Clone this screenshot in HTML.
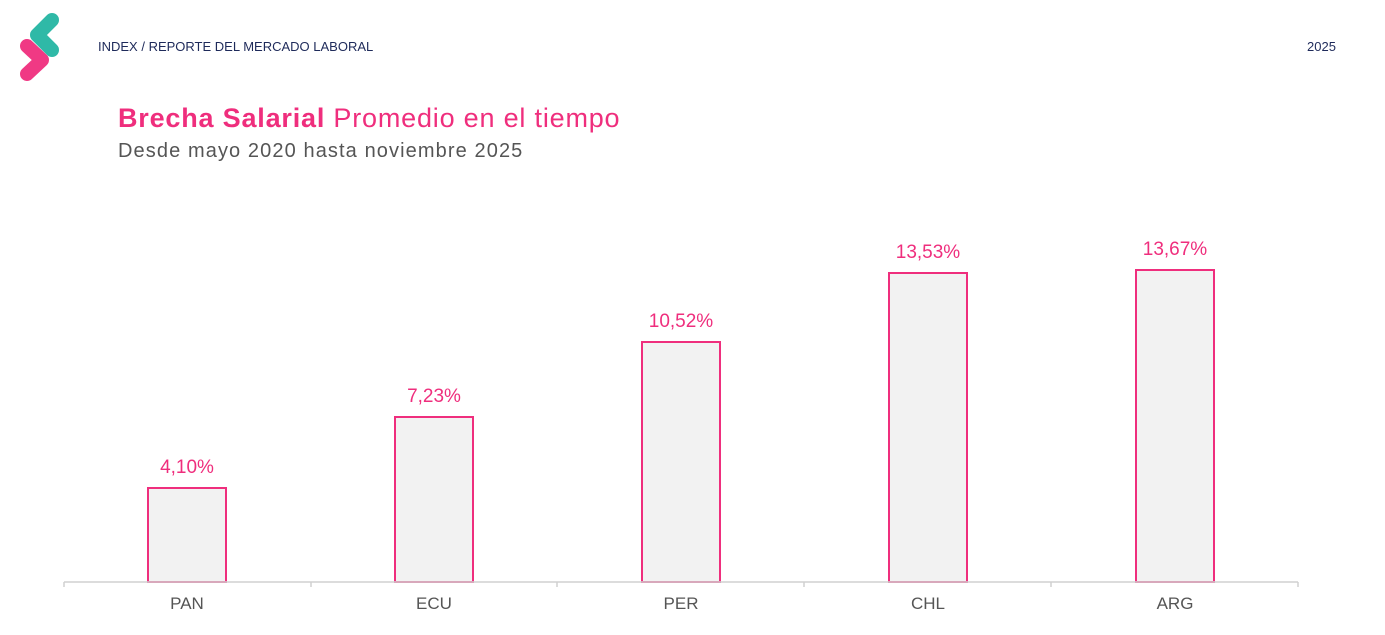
<!DOCTYPE html>
<html><head><meta charset="utf-8"><style>
body{margin:0;width:1385px;height:635px;background:#fff;overflow:hidden;font-family:"Liberation Sans",sans-serif;position:relative}
.a{position:absolute}
</style></head><body>
<svg class="a" style="left:0;top:0" width="70" height="90">
<path d="M52 20 L37 35 L52 50" stroke="#2fb9a7" stroke-width="14" fill="none" stroke-linecap="round" stroke-linejoin="round"/>
<path d="M27 46 L42 60 L27 74" stroke="#ef2e7d" stroke-width="14" fill="none" stroke-linecap="round" stroke-linejoin="round" opacity="0.95"/>
</svg>
<div class="a" style="left:98px;top:39px;font-size:13px;color:#1e2a5a">INDEX / REPORTE DEL MERCADO LABORAL</div>
<div class="a" style="left:1307px;top:39px;font-size:13px;color:#1e2a5a">2025</div>
<div class="a" style="left:118px;top:103px;font-size:27px;letter-spacing:0.8px;color:#ef2e7d"><b>Brecha Salarial</b> Promedio en el tiempo</div>
<div class="a" style="left:118px;top:140px;font-size:20px;letter-spacing:1.1px;color:#555">Desde mayo 2020 hasta noviembre 2025</div>
<svg class="a" style="left:0;top:0" width="1385" height="635">
<g fill="#f2f2f2" stroke="#ef2e7d" stroke-width="2">
<rect x="148" y="488" width="78" height="94"/>
<rect x="395" y="417" width="78" height="165"/>
<rect x="642" y="342" width="78" height="240"/>
<rect x="889" y="273" width="78" height="309"/>
<rect x="1136" y="270" width="78" height="312"/>
</g>
<g stroke="#d0d0d0" stroke-width="1.5">
<line x1="64" y1="582" x2="1298" y2="582"/>
<line x1="64" y1="582" x2="64" y2="587"/><line x1="311" y1="582" x2="311" y2="587"/><line x1="557" y1="582" x2="557" y2="587"/><line x1="804" y1="582" x2="804" y2="587"/><line x1="1051" y1="582" x2="1051" y2="587"/><line x1="1298" y1="582" x2="1298" y2="587"/>
</g>
<g fill="#ef2e7d" font-size="19" text-anchor="middle" font-family="Liberation Sans, sans-serif">
<text x="187" y="473">4,10%</text>
<text x="434" y="402">7,23%</text>
<text x="681" y="327">10,52%</text>
<text x="928" y="258">13,53%</text>
<text x="1175" y="255">13,67%</text>
</g>
<g fill="#555" font-size="17" text-anchor="middle" font-family="Liberation Sans, sans-serif">
<text x="187" y="609">PAN</text>
<text x="434" y="609">ECU</text>
<text x="681" y="609">PER</text>
<text x="928" y="609">CHL</text>
<text x="1175" y="609">ARG</text>
</g>
</svg>
</body></html>
